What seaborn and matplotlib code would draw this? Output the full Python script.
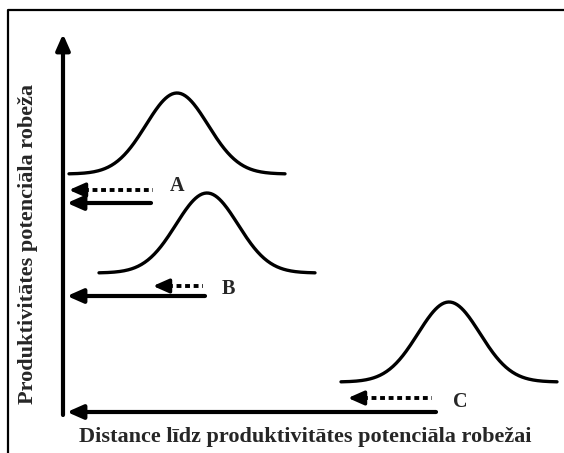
import matplotlib
matplotlib.use("Agg")
import matplotlib.pyplot as plt
import numpy as np
import pandas as pd
import seaborn as sns

# curve positions (pixel space of the 564x453 picture, y grows downwards)
labels = ["A", "B", "C"]
peak_x = [177, 207, 449]
peak_y = [93, 193, 302]
base_y = [174, 273, 382]
half_span = 108
sigma = 31

# arrows: y, start x, tip x
solid_y = [203, 296, 412]
solid_x0 = [151, 205, 436]
dotted_y = [190, 286, 398]
dotted_x0 = [153, 203, 432]
dotted_tip = [69, 153, 348]
axis_x = 63
label_pos = [(177, 186), (228, 289), (460, 402)]

sns.set_style("white")
plt.rcParams["font.family"] = ["Liberation Serif", "DejaVu Serif"]

fig = plt.figure(figsize=(5.64, 4.53), dpi=100)
ax = fig.add_axes([0, 0, 1, 1])
ax.set_xlim(0, 564)
ax.set_ylim(453, 0)
ax.axis("off")

# distribution curves
rows = []
for lab, px, py, by in zip(labels, peak_x, peak_y, base_y):
    xs = np.linspace(px - half_span, px + half_span, 200)
    ys = by - (by - py) * np.exp(-((xs - px) ** 2) / (2 * sigma ** 2))
    rows.append(pd.DataFrame({"x": xs, "y": ys, "curve": lab}))
curves = pd.concat(rows)
sns.lineplot(data=curves, x="x", y="y", units="curve", estimator=None,
             color="black", lw=2.4, sort=False, ax=ax, legend=False)

head = "-|>,head_length=0.95,head_width=0.42"

# vertical axis with arrow
ax.annotate("", xy=(axis_x, 34), xytext=(axis_x, 415),
            arrowprops=dict(arrowstyle=head, lw=3, color="black",
                            shrinkA=0, shrinkB=0))

# solid arrows
for y, x0 in zip(solid_y, solid_x0):
    ax.annotate("", xy=(67, y), xytext=(x0, y),
                arrowprops=dict(arrowstyle=head, lw=3, color="black",
                                shrinkA=0, shrinkB=0))

# dotted arrows: dotted shaft + filled head
for y, x0, xt in zip(dotted_y, dotted_x0, dotted_tip):
    ax.plot([xt + 15, x0], [y, y], color="black", lw=2.8,
            linestyle=(0, (1.25, 0.95)), solid_capstyle="butt",
            dash_capstyle="butt")
    ax.annotate("", xy=(xt, y), xytext=(xt + 14, y),
                arrowprops=dict(arrowstyle=head, lw=2.5, color="black",
                                shrinkA=0, shrinkB=0))

for lab, (lx, ly) in zip(labels, label_pos):
    ax.text(lx, ly, lab, fontsize=14.5, fontweight="bold", ha="center",
            va="center")

ax.text(305, 437, "Distance līdz produktivitātes potenciāla robežai",
        fontsize=16, fontweight="bold", ha="center", va="center")
ax.text(28, 244, "Produktivitātes potenciāla robeža", fontsize=16,
        fontweight="bold", ha="center", va="center", rotation=90)

# frame around the figure (right and bottom edges fall outside the crop)
ax.plot([8, 8, 564], [453, 10, 10], color="black", lw=1.6)

fig.savefig("out.png", dpi=100)
